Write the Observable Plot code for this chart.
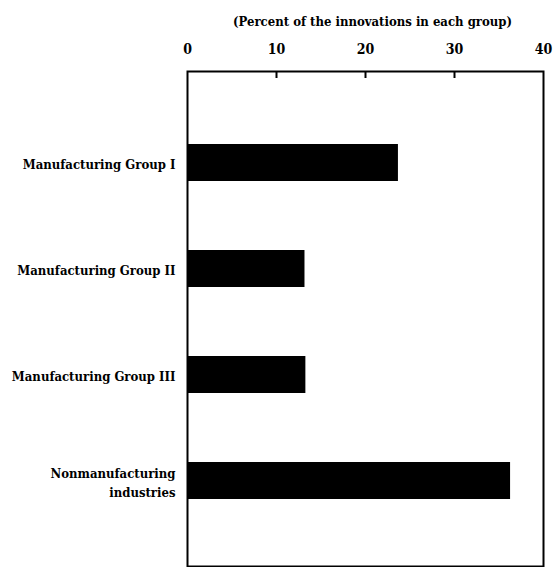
<!DOCTYPE html>
<html>
<head>
<meta charset="utf-8">
<script src="https://cdn.jsdelivr.net/npm/d3@7"></script>
<script src="https://cdn.jsdelivr.net/npm/@observablehq/plot@0.6"></script>
<style>
  html, body { margin: 0; padding: 0; background: #fff; }
  #chart svg { display: block; }
</style>
</head>
<body>
<div id="chart"></div>
<script>
const categories = ["Manufacturing Group I", "Manufacturing Group II", "Manufacturing Group III", "Nonmanufacturing industries"];
const values = [23.7, 13.2, 13.3, 36.3];
const xTicks = [0, 10, 20, 30, 40];
const innerTicks = [10, 20, 30];
const axisTitle = "(Percent of the innovations in each group)";

const data = categories.map((c, i) => ({category: c, value: values[i]}));
const FONT = "'DejaVu Serif Condensed', 'Liberation Serif', serif";

const W = 554, H = 567, mT = 71, mB = 1;

const chart = Plot.plot({
  width: W,
  height: H,
  marginLeft: 187,
  marginRight: 11,
  marginTop: mT,
  marginBottom: mB,
  style: {fontFamily: FONT, fontSize: "13px", fontWeight: "bold", color: "#000", background: "#fff"},
  x: {domain: [0, 40]},
  y: {domain: categories, paddingInner: 0.653, paddingOuter: 0.647, align: 0.52},
  marks: [
    Plot.barX(data, {y: "category", x: "value", fill: "#000"}),
    Plot.frame({stroke: "#000", strokeWidth: 2}),
    Plot.ruleX(innerTicks, {x: d => d, stroke: "#000", strokeWidth: 2, insetBottom: H - mT - mB - 7}),
    Plot.axisX({anchor: "top", ticks: xTicks, tickSize: 0, tickPadding: 18, label: null, fontSize: 14}),
    Plot.axisY({anchor: "left", tickSize: 0, tickPadding: 12, label: null, lineHeight: 1.5,
      tickFormat: d => d.replace(" industries", "\nindustries")}),
    Plot.text([axisTitle], {text: d => d, frameAnchor: "top", dx: 7, dy: -55, fontSize: 13, fontWeight: "bold"})
  ]
});
document.getElementById("chart").appendChild(chart);
</script>
</body>
</html>
